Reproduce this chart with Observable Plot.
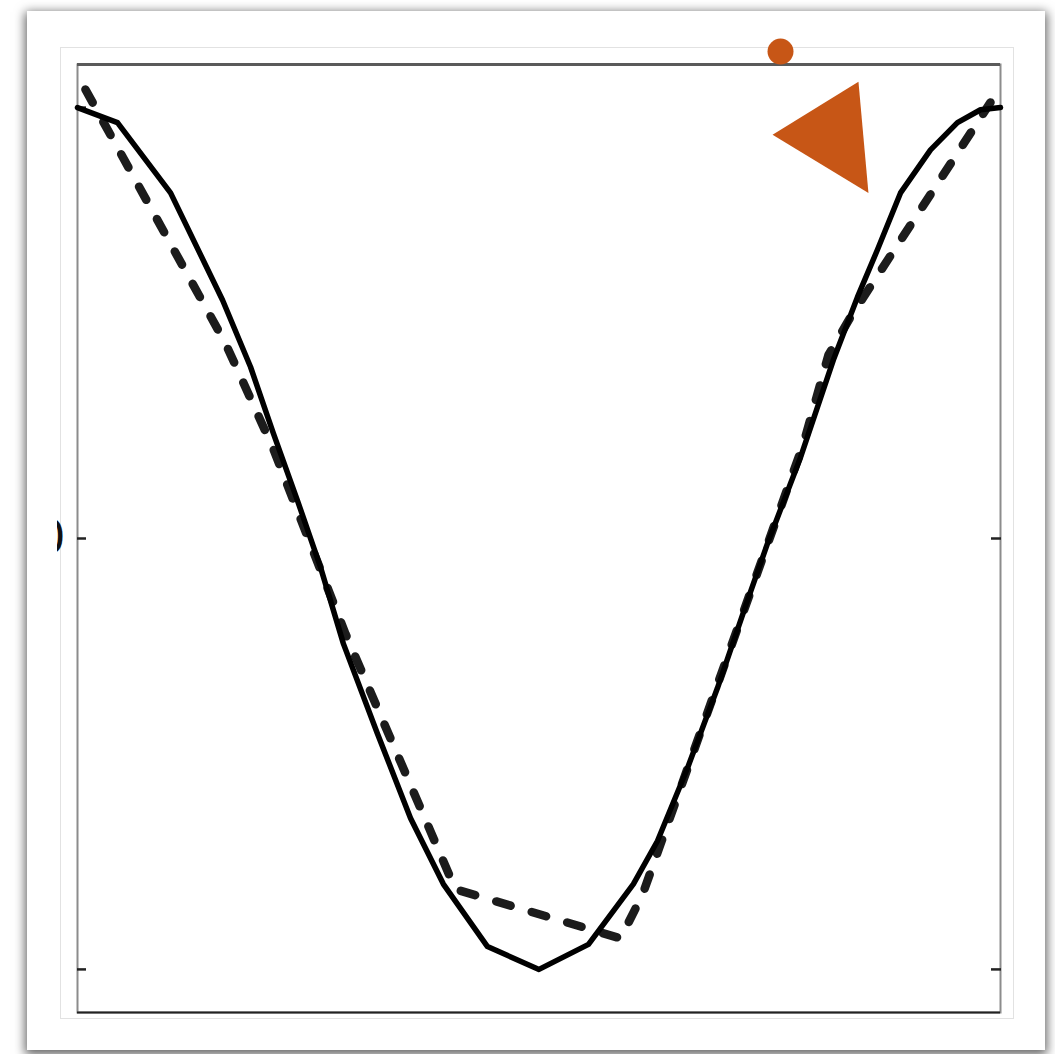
<!DOCTYPE html>
<html>
<head>
<meta charset="utf-8">
<script src="https://cdn.jsdelivr.net/npm/d3@7"></script>
<script src="https://cdn.jsdelivr.net/npm/@observablehq/plot@0.6"></script>
<style>
  html, body { margin: 0; padding: 0; background: #fff; }
  #page { position: relative; width: 1055px; height: 1054px; overflow: hidden; }
  #card {
    position: absolute; left: 27px; top: 11px; width: 1018px; height: 1039px;
    background: #fff; box-shadow: 0 3px 10px 2px rgba(0,0,0,0.6);
  }
  #inner {
    position: absolute; left: 60px; top: 47px; width: 952px; height: 970px;
    border: 1px solid #e2e2e2;
  }
  #chart { position: absolute; left: 0; top: 0; }
</style>
</head>
<body>
<div id="page">
  <div id="card"></div>
  <div id="inner"></div>
  <div id="chart"></div>
</div>
<script>
// Solid curve: angle (degrees) and response
const solidAngle = [0, 15.6, 36.3, 56.6, 67.5, 76.4, 85.8, 94.8, 103.7, 117.0, 129.9, 142.7, 159.9, 180,
  199.3, 216.8, 226.2, 237.9, 249.6, 261.3, 269.1, 282.0, 294.8, 304.2, 312.0, 321.0, 332.7, 343.2, 352.2, 360];
const solidValue = [1.0, 0.965, 0.802, 0.553, 0.398, 0.244, 0.088, -0.067, -0.244, -0.453, -0.649, -0.802, -0.947, -1.0,
  -0.942, -0.802, -0.702, -0.533, -0.347, -0.144, -0.012, 0.188, 0.414, 0.560, 0.670, 0.802, 0.902, 0.965, 0.995, 1.0];

// Dashed curve
const dashAngle = [3.1, 57.7, 76.1, 104.5, 147.4, 211.8, 220.4, 283.2, 292.9, 301.5, 356.1];
const dashValue = [1.042, 0.453, 0.212, -0.221, -0.814, -0.928, -0.826, 0.221, 0.426, 0.514, 1.012];

// Orange markers
const dotAngle = [274.2];
const dotValue = [1.13];
const triAngle = [271.1, 304.6, 308.5];
const triValue = [0.937, 1.060, 0.802];

// Axis settings
const yTicks = [-1, 0, 1];
const xDomain = [0, 360];
const yDomain = [-1.1, 1.1];

const solid = solidAngle.map((a, i) => ({a, v: solidValue[i]}));
const dashed = dashAngle.map((a, i) => ({a, v: dashValue[i]}));
const dot = dotAngle.map((a, i) => ({a, v: dotValue[i]}));
const tri = triAngle.map((a, i) => ({a, v: triValue[i]}));

const orange = "#c75616";

const chart = Plot.plot({
  width: 1055,
  height: 1054,
  marginLeft: 77,
  marginRight: 55,
  marginTop: 64,
  marginBottom: 42,
  style: {background: "none", overflow: "visible"},
  x: {domain: xDomain, axis: null},
  y: {domain: yDomain},
  marks: [
    Plot.frame({stroke: "#8c8c8c", strokeWidth: 2}),
    Plot.ruleY([yDomain[1]], {stroke: "#5a5a5a", strokeWidth: 3}),
    Plot.ruleY([yDomain[0]], {stroke: "#222", strokeWidth: 2}),
    // inward tick marks on both sides
    Plot.axisY({anchor: "left", ticks: yTicks, tickSize: -9, tickFormat: () => "", label: null,
      stroke: "#222", strokeWidth: 2.5}),
    Plot.axisY({anchor: "right", ticks: yTicks, tickSize: -10, tickFormat: () => "", label: null,
      stroke: "#222", strokeWidth: 2.5}),
    // tick label, mostly trimmed by the panel edge
    Plot.axisY({anchor: "left", ticks: yTicks, tickSize: 0, tickPadding: 12, fontSize: 46, label: null,
      fill: "#111", fontFamily: "DejaVu Sans", tickFormat: d => d === 0 ? "0" : ""}),
    Plot.line(dashed, {x: "a", y: "v", stroke: "#1c1c1c", strokeWidth: 8.5,
      strokeDasharray: "15,22", strokeLinejoin: "miter"}),
    Plot.line(solid, {x: "a", y: "v", stroke: "#000", strokeWidth: 5.5, strokeLinejoin: "round"}),
    Plot.line(tri, {x: "a", y: "v", fill: orange, stroke: "none"}),
    Plot.dot(dot, {x: "a", y: "v", r: 13, fill: orange, stroke: "none"})
  ]
});

// Trim tick labels so only the right edge shows past the panel border:
// wrap each label group in an untransformed group that carries the clip.
const svg = d3.select(chart);
svg.append("defs").append("clipPath").attr("id", "label-clip")
  .attr("clipPathUnits", "userSpaceOnUse")
  .append("rect").attr("x", 57).attr("y", 0).attr("width", 1000).attr("height", 1054);
const labelGroups = new Set();
svg.selectAll("text").each(function() { labelGroups.add(this.parentNode); });
labelGroups.forEach(g => {
  const wrap = document.createElementNS("http://www.w3.org/2000/svg", "g");
  wrap.setAttribute("clip-path", "url(#label-clip)");
  g.parentNode.insertBefore(wrap, g);
  wrap.appendChild(g);
});

document.getElementById("chart").appendChild(chart);
</script>
</body>
</html>
